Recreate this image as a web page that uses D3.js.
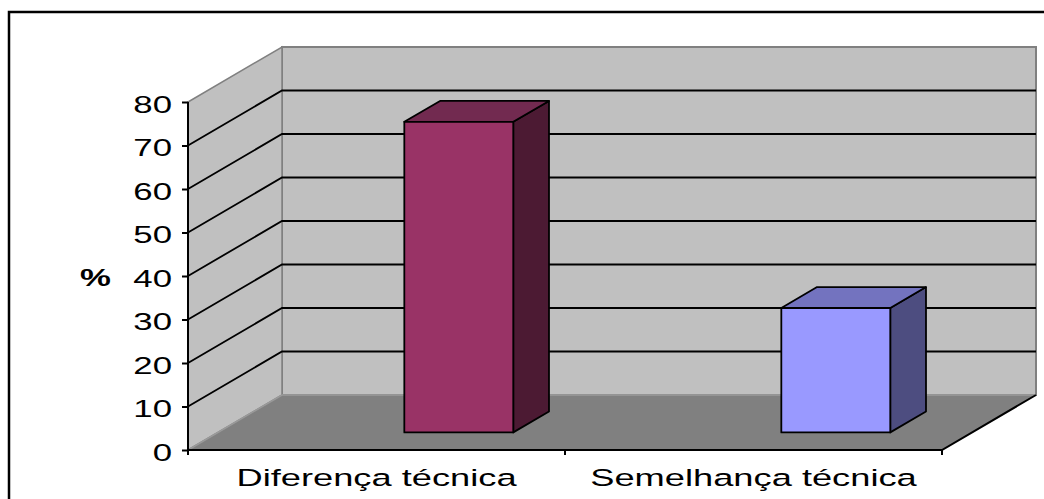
<!DOCTYPE html>
<html>
<head>
<meta charset="utf-8">
<script src="https://cdn.jsdelivr.net/npm/d3@7"></script>
<style>
  html, body { margin: 0; padding: 0; background: #fff; }
  svg { display: block; }
  text { font-family: "Liberation Sans", Arial, sans-serif; }
</style>
</head>
<body>
<svg id="chart" width="1044" height="499"></svg>
<script>
// ---- data ----
const categories = ["Diferença técnica", "Semelhança técnica"];
const values = [71.4, 28.6];
const yTicks = [0, 10, 20, 30, 40, 50, 60, 70, 80];
const axisTitle = "%";
const frontColors = ["#993366", "#9999FF"];
const topColors = ["#722A50", "#7373BF"];
const sideColors = ["#4C1A33", "#4D4D80"];

// ---- layout ----
const svg = d3.select("#chart");
const X0 = 188, X1 = 942;
const DX = 94, DY = -55;          // depth vector
const SX = 1.42;                  // horizontal text stretch
const SXC = 1.48;                 // category label stretch
const FS = 24.5;
const x = d3.scaleBand().domain(categories).range([X0, X1]).padding(0);
const y = d3.scaleLinear().domain([0, 80]).range([450, 102]);
const P = (px, v, z) => [px + z * DX, y(v) + z * DY];
const poly = pts => "M" + pts.map(p => p.join(",")).join("L") + "Z";

// frame
svg.append("rect").attr("x", 9).attr("y", 12).attr("width", 1200).attr("height", 700)
  .attr("fill", "none").attr("stroke", "#000").attr("stroke-width", 2.5);

// back wall
svg.append("path").attr("d", poly([P(X0,0,1), P(X1,0,1), P(X1,80,1), P(X0,80,1)]))
  .attr("fill", "#C0C0C0").attr("stroke", "#808080").attr("stroke-width", 2);
// side wall
svg.append("path").attr("d", poly([P(X0,0,0), P(X0,0,1), P(X0,80,1), P(X0,80,0)]))
  .attr("fill", "#C0C0C0").attr("stroke", "#808080").attr("stroke-width", 1.5);

// gridlines
const grid = yTicks.filter(t => t > 0 && t < 80);
svg.append("g").selectAll("path").data(grid).join("path")
  .attr("d", t => "M" + P(X0,t,0).join(",") + "L" + P(X0,t,1).join(",") + "L" + P(X1,t,1).join(","))
  .attr("fill", "none").attr("stroke", "#000").attr("stroke-width", 1.8);

// floor
svg.append("path").attr("d", poly([P(X0,0,0), P(X1,0,0), P(X1,0,1), P(X0,0,1)]))
  .attr("fill", "#808080").attr("stroke", "none");
svg.append("path").attr("d", "M" + P(X0,0,0).join(",") + "L" + P(X0,0,1).join(",") + "L" + P(X1,0,1).join(","))
  .attr("fill", "none").attr("stroke", "#9a9a9a").attr("stroke-width", 1.5);
svg.append("path").attr("d", "M" + P(X0,0,0).join(",") + "L" + P(X1,0,0).join(",") + "L" + P(X1,0,1).join(","))
  .attr("fill", "none").attr("stroke", "#000").attr("stroke-width", 2);

// bars
const zf = 0.32, zb = 0.70;
const bars = svg.append("g").selectAll("g").data(categories).join("g");
bars.each(function(c, i) {
  const g = d3.select(this);
  const bw = x.bandwidth();
  const bx0 = x(c) + 0.494 * bw, bx1 = bx0 + 0.289 * bw;
  const v = values[i];
  g.append("path").attr("d", poly([P(bx1,0,zf), P(bx1,0,zb), P(bx1,v,zb), P(bx1,v,zf)]))
    .attr("fill", sideColors[i]).attr("stroke", "#000").attr("stroke-width", 1.8).attr("stroke-linejoin", "round");
  g.append("path").attr("d", poly([P(bx0,v,zf), P(bx1,v,zf), P(bx1,v,zb), P(bx0,v,zb)]))
    .attr("fill", topColors[i]).attr("stroke", "#000").attr("stroke-width", 1.8).attr("stroke-linejoin", "round");
  g.append("path").attr("d", poly([P(bx0,0,zf), P(bx1,0,zf), P(bx1,v,zf), P(bx0,v,zf)]))
    .attr("fill", frontColors[i]).attr("stroke", "#000").attr("stroke-width", 1.8).attr("stroke-linejoin", "round");
});

// y axis
const yAxis = d3.axisLeft(y).tickValues(yTicks).tickSize(6).tickPadding(0).tickFormat(d3.format("d"));
const ya = svg.append("g").attr("transform", `translate(${X0},0)`).call(yAxis);
ya.select(".domain").attr("stroke", "#000").attr("stroke-width", 2).attr("d", `M0,${y(80)}V${y(0)}`);
ya.selectAll(".tick line").attr("stroke", "#000").attr("stroke-width", 2);
ya.selectAll(".tick text").attr("font-size", FS).attr("fill", "#000")
  .attr("font-family", "'Liberation Sans', Arial, sans-serif")
  .attr("x", -16 / SX).attr("dy", "0.42em")
  .attr("transform", `scale(${SX},1)`);

// x axis
const xa = svg.append("g").attr("transform", `translate(0,${y(0)})`)
  .call(d3.axisBottom(x).tickSize(0).tickPadding(19));
xa.select(".domain").remove();
xa.selectAll(".tick text").attr("font-size", FS).attr("fill", "#000")
  .attr("font-family", "'Liberation Sans', Arial, sans-serif")
  .attr("transform", `scale(${SXC},1)`);
const boundaries = [X0, x(categories[1]), X1];
svg.append("g").selectAll("line").data(boundaries).join("line")
  .attr("x1", d => d).attr("x2", d => d).attr("y1", y(0)).attr("y2", y(0) + 5)
  .attr("stroke", "#000").attr("stroke-width", 2);

// axis title
svg.append("text").attr("transform", `translate(80,286) scale(${SX},1)`)
  .attr("font-size", FS).attr("font-weight", "bold")
  .text(axisTitle);
</script>
</body>
</html>
